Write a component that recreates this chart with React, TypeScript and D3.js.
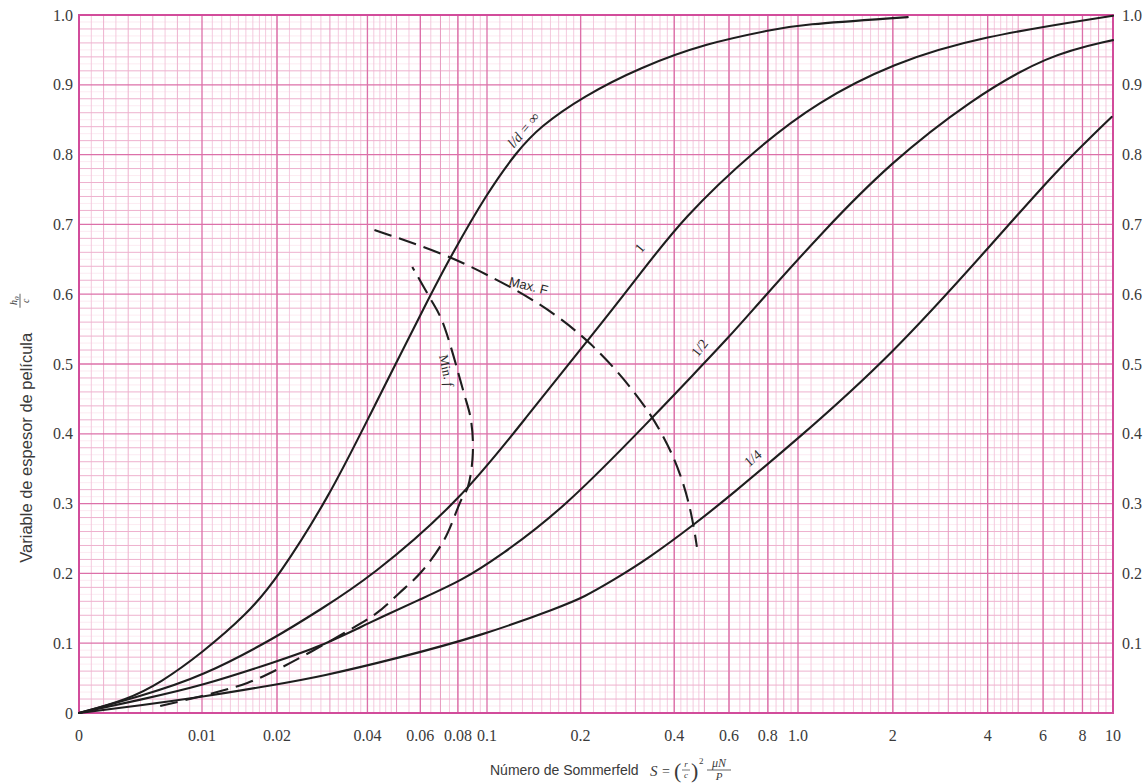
import React from 'react';
import * as d3 from 'd3';

const W = 1148;
const H = 784;

// Tick values / labels
const xTickValues = [0, 0.01, 0.02, 0.04, 0.06, 0.08, 0.1, 0.2, 0.4, 0.6, 0.8, 1, 2, 4, 6, 8, 10];
const xTickLabels = ['0', '0.01', '0.02', '0.04', '0.06', '0.08', '0.1', '0.2', '0.4', '0.6', '0.8', '1.0', '2', '4', '6', '8', '10'];
const yTickValues = [0, 0.1, 0.2, 0.3, 0.4, 0.5, 0.6, 0.7, 0.8, 0.9, 1.0];
const yTickLabels = ['0', '0.1', '0.2', '0.3', '0.4', '0.5', '0.6', '0.7', '0.8', '0.9', '1.0'];

// l/d = infinity
const sInf = [0, 0.0039, 0.0066, 0.01, 0.0152, 0.02, 0.03, 0.04, 0.0643, 0.0748, 0.1, 0.125, 0.148, 0.203, 0.31, 0.51, 0.83, 1.0, 2.23];
const hInf = [0, 0.019, 0.043, 0.086, 0.142, 0.192, 0.312, 0.42, 0.596, 0.65, 0.745, 0.805, 0.84, 0.883, 0.925, 0.96, 0.979, 0.986, 0.997];
// l/d = 1
const s1 = [0, 0.005, 0.01, 0.02, 0.0278, 0.0406, 0.082, 0.137, 0.214, 0.3, 0.427, 0.74, 1.15, 2.0, 3.78, 10];
const h1 = [0, 0.024, 0.052, 0.109, 0.148, 0.193, 0.305, 0.43, 0.537, 0.62, 0.71, 0.81, 0.875, 0.931, 0.969, 0.999];
// l/d = 1/2
const sHalf = [0, 0.005, 0.01, 0.02, 0.0278, 0.04, 0.06, 0.0827, 0.11, 0.175, 0.347, 0.45, 0.604, 0.74, 1.2, 1.96, 3.52, 6.2, 10];
const hHalf = [0, 0.019, 0.039, 0.074, 0.095, 0.128, 0.163, 0.19, 0.225, 0.291, 0.427, 0.48, 0.54, 0.585, 0.69, 0.788, 0.878, 0.943, 0.964];
// l/d = 1/4
const sQuarter = [0, 0.005, 0.01, 0.02, 0.0278, 0.05, 0.098, 0.172, 0.205, 0.254, 0.327, 0.47, 0.6, 0.99, 1.96, 4.06, 6.63, 9.9];
const hQuarter = [0, 0.011, 0.023, 0.041, 0.052, 0.078, 0.112, 0.152, 0.166, 0.19, 0.22, 0.272, 0.31, 0.391, 0.51, 0.668, 0.778, 0.854];
// Max. F (dashed)
const sMaxF = [0.0422, 0.0748, 0.108, 0.137, 0.214, 0.347, 0.427, 0.46, 0.473];
const hMaxF = [0.692, 0.656, 0.62, 0.596, 0.537, 0.427, 0.337, 0.274, 0.238];
// Min. f (dashed)
const sMinF = [0.0066, 0.0115, 0.0152, 0.02, 0.0336, 0.0429, 0.0511, 0.0604, 0.072, 0.082, 0.0864, 0.0897, 0.0884, 0.0838, 0.0707, 0.0643, 0.0564];
const hMinF = [0.01, 0.03, 0.043, 0.062, 0.115, 0.143, 0.172, 0.202, 0.248, 0.305, 0.324, 0.372, 0.42, 0.458, 0.563, 0.596, 0.639];

const plot = { left: 79, right: 1113, top: 15, bottom: 713 };

const xLinear = d3.scaleLinear().domain([0, 0.01]).range([plot.left, 202]);
const xLog = d3.scaleLog().domain([0.01, 0.02, 0.1, 1, 10]).range([202, 277, 487, 798, plot.right]);
const xs = (s: number) => (s <= 0.01 ? xLinear(s) : xLog(s));
const ys = d3.scaleLinear().domain([0, 1]).range([plot.bottom, plot.top]);

const zip = (s: number[], h: number[]) => s.map((v, i) => [v, h[i]] as [number, number]);

const lineSmooth = d3
  .line<[number, number]>()
  .x((d) => xs(d[0]))
  .y((d) => ys(d[1]))
  .curve(d3.curveBasis);

const lineCR = d3
  .line<[number, number]>()
  .x((d) => xs(d[0]))
  .y((d) => ys(d[1]))
  .curve(d3.curveCatmullRom.alpha(0.5));

// grid values
const faintX: number[] = [];
const minorX: number[] = [];
const mediumX: number[] = [];
for (let i = 1; i < 10; i++) {
  const v = i * 0.001;
  if (i % 2 === 0) minorX.push(v);
  else faintX.push(v);
}
[0.01, 0.1, 1].forEach((dec) => {
  for (let m = 1.1; m < 1.95; m += 0.1) faintX.push(m * dec);
  for (let m = 2.2; m < 4.95; m += 0.2) if (Math.abs(m - 3) > 0.01 && Math.abs(m - 4) > 0.01) faintX.push(m * dec);
  for (let m = 5.5; m < 9.95; m += 0.5) if (Math.abs(m - Math.round(m)) > 0.01) faintX.push(m * dec);
  for (let m = 2; m <= 9; m++) mediumX.push(m * dec);
});
const majorX = xTickValues.filter((v) => v > 0 && v < 10);

const faintY = d3.range(1, 100).filter((i) => i % 2 === 1).map((i) => i / 100);
const minorY = d3.range(1, 50).filter((i) => i % 5 !== 0).map((i) => i / 50);
const majorY = yTickValues.filter((v) => v > 0 && v < 1);

const serif = '"Liberation Serif", "DejaVu Serif", serif';
const sans = '"Liberation Sans", Arial, sans-serif';
const textColor = '#3a3a3a';

export default function App() {
  const curves = [zip(sInf, hInf), zip(s1, h1), zip(sHalf, hHalf), zip(sQuarter, hQuarter)];
  return (
    <svg width={W} height={H} style={{ position: 'absolute', left: 0, top: 0, background: '#fff' }}>
      <rect x={0} y={0} width={W} height={H} fill="#fff" />
      {/* grid */}
      <g>
        {faintY.map((v, i) => (
          <line key={'fy' + i} x1={plot.left} x2={plot.right} y1={ys(v)} y2={ys(v)} stroke="#fae2ec" strokeWidth={0.7} />
        ))}
        {faintX.map((v, i) => (
          <line key={'fx' + i} x1={xs(v)} x2={xs(v)} y1={plot.top} y2={plot.bottom} stroke="#f3c4da" strokeWidth={0.9} />
        ))}
        {minorY.map((v, i) => (
          <line key={'my' + i} x1={plot.left} x2={plot.right} y1={ys(v)} y2={ys(v)} stroke="#eeb1ce" strokeWidth={1} />
        ))}
        {minorX.map((v, i) => (
          <line key={'mx' + i} x1={xs(v)} x2={xs(v)} y1={plot.top} y2={plot.bottom} stroke="#eeb1ce" strokeWidth={1} />
        ))}
        {mediumX.map((v, i) => (
          <line key={'mdx' + i} x1={xs(v)} x2={xs(v)} y1={plot.top} y2={plot.bottom} stroke="#e79ac0" strokeWidth={1} />
        ))}
        {majorY.map((v, i) => (
          <line key={'My' + i} x1={plot.left} x2={plot.right} y1={ys(v)} y2={ys(v)} stroke="#dc70a9" strokeWidth={1.3} />
        ))}
        {majorX.map((v, i) => (
          <line key={'Mx' + i} x1={xs(v)} x2={xs(v)} y1={plot.top} y2={plot.bottom} stroke="#dc70a9" strokeWidth={1.3} />
        ))}
        <rect
          x={plot.left}
          y={plot.top}
          width={plot.right - plot.left}
          height={plot.bottom - plot.top}
          fill="none"
          stroke="#d24c9b"
          strokeWidth={2}
        />
      </g>

      {/* curves */}
      <g fill="none" stroke="#1e1e1e" strokeWidth={2.1} strokeLinecap="round">
        {curves.map((c, i) => (
          <path key={'c' + i} d={lineSmooth(c) || ''} />
        ))}
        <path d={lineSmooth(zip(sMaxF, hMaxF)) || ''} strokeDasharray="18 8" strokeLinecap="butt" />
        <path d={lineCR(zip(sMinF, hMinF)) || ''} strokeDasharray="18 8" strokeLinecap="butt" />
      </g>

      {/* curve labels */}
      <g fill="#2a2a2a" fontFamily={serif} fontSize={14}>
        <text transform={`translate(${xs(0.131)},${ys(0.835)}) rotate(-50)`} textAnchor="middle" dominantBaseline="central" fontStyle="italic">
          l/d = ∞
        </text>
        <text transform={`translate(${xs(0.31)},${ys(0.666)}) rotate(-50)`} textAnchor="middle" dominantBaseline="central">
          1
        </text>
        <text transform={`translate(${xs(0.483)},${ys(0.523)}) rotate(-52)`} textAnchor="middle" dominantBaseline="central">
          1/2
        </text>
        <text transform={`translate(${xs(0.716)},${ys(0.365)}) rotate(-40)`} textAnchor="middle" dominantBaseline="central">
          1/4
        </text>
        <text
          transform={`translate(${xs(0.136)},${ys(0.612)}) rotate(14)`}
          textAnchor="middle"
          dominantBaseline="central"
          fontFamily={sans}
          fontSize={13}
        >
          Max. F
        </text>
        <text transform={`translate(${xs(0.0734)},${ys(0.491)}) rotate(78)`} textAnchor="middle" dominantBaseline="central" fontSize={13}>
          Min. <tspan fontStyle="italic">f</tspan>
        </text>
      </g>

      {/* axis tick labels */}
      <g fill={textColor} fontFamily={serif} fontSize={16}>
        {xTickValues.map((v, i) => (
          <text key={'xt' + i} x={xs(v)} y={plot.bottom + 28} textAnchor="middle">
            {xTickLabels[i]}
          </text>
        ))}
        {yTickValues.map((v, i) => (
          <text key={'yl' + i} x={plot.left - 6} y={ys(v)} dy="0.35em" textAnchor="end">
            {yTickLabels[i]}
          </text>
        ))}
        {yTickValues
          .filter((v) => v > 0)
          .map((v, i) => (
            <text key={'yr' + i} x={plot.right + 9} y={ys(v)} dy="0.35em" textAnchor="start">
              {yTickLabels[i + 1]}
            </text>
          ))}
      </g>

      {/* y axis title */}
      <g transform={`translate(26, ${ys(0.38)}) rotate(-90)`} fill={textColor}>
        <text x={0} y={0} dy="0.35em" textAnchor="middle" fontFamily={sans} fontSize={16.5}>
          Variable de espesor de película
        </text>
        <text x={147} y={-9} textAnchor="middle" fontFamily={serif} fontSize={10} fontStyle="italic">
          h<tspan fontSize={7} dy={2}>0</tspan>
        </text>
        <line x1={140} x2={154} y1={-6} y2={-6} stroke={textColor} strokeWidth={0.8} />
        <text x={147} y={3} textAnchor="middle" fontFamily={serif} fontSize={10} fontStyle="italic">
          c
        </text>
      </g>

      {/* x axis title */}
      <g fill={textColor}>
        <text x={490} y={775} fontFamily={sans} fontSize={14}>
          Número de Sommerfeld
        </text>
        <g fontFamily={serif} fontStyle="italic">
          <text x={650} y={776} fontSize={15}>
            S
          </text>
          <text x={662} y={776} fontSize={14} fontStyle="normal">
            =
          </text>
          <text x={674} y={778} fontSize={22} fontStyle="normal">
            (
          </text>
          <text x={686} y={767} fontSize={9} textAnchor="middle">
            r
          </text>
          <line x1={682} x2={690} y1={770} y2={770} stroke={textColor} strokeWidth={0.7} />
          <text x={686} y={778} fontSize={9} textAnchor="middle">
            c
          </text>
          <text x={691} y={778} fontSize={22} fontStyle="normal">
            )
          </text>
          <text x={699} y={764} fontSize={9} fontStyle="normal">
            2
          </text>
          <text x={719} y={767} fontSize={12} textAnchor="middle">
            μN
          </text>
          <line x1={707} x2={731} y1={770} y2={770} stroke={textColor} strokeWidth={0.8} />
          <text x={719} y={780} fontSize={11} textAnchor="middle">
            P
          </text>
        </g>
      </g>
    </svg>
  );
}
